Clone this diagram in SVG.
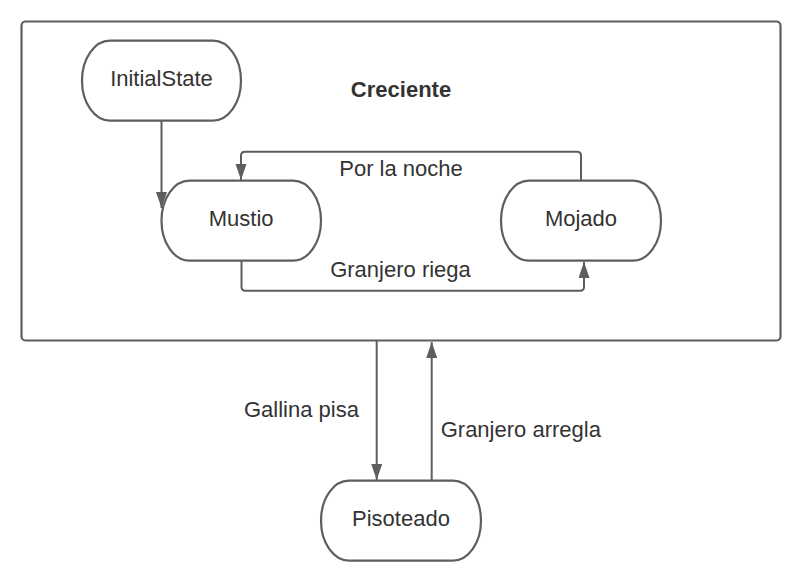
<svg xmlns="http://www.w3.org/2000/svg" width="803" height="583" viewBox="0 0 803 583">
<defs>
<style>
.node{fill:#ffffff;stroke:#5e5e5e;stroke-width:2.2}
.frame{fill:#ffffff;stroke:#5e5e5e;stroke-width:2.2}
.edge{fill:none;stroke:#5e5e5e;stroke-width:2}
.t{font-family:"Liberation Sans",Arial,sans-serif;font-size:22px;fill:#333333;text-anchor:middle}
.b{font-weight:bold}
.l{text-anchor:start}
</style>
<marker id="arr" markerUnits="userSpaceOnUse" markerWidth="18" markerHeight="12" refX="16" refY="5.5" orient="auto">
<path d="M0,0 L16,5.5 L0,11 z" fill="#5e5e5e"/>
</marker>
</defs>
<g id="creciente">
<rect class="frame" x="21.5" y="21.5" width="759" height="319" rx="4"/>
<text class="t b" x="401" y="97">Creciente</text>
</g>
<g id="connectors">
<path class="edge" d="M161.5,120.5 V208" marker-end="url(#arr)"/>
<path class="edge" d="M581,180.5 V155.7 Q581,151.7 577,151.7 H245 Q241,151.7 241,155.7 V180" marker-end="url(#arr)"/>
<path class="edge" d="M241.5,260.5 V286.7 Q241.5,290.7 245.5,290.7 H580 Q584,290.7 584,286.7 V262" marker-end="url(#arr)"/>
<path class="edge" d="M376.7,341 V480" marker-end="url(#arr)"/>
<path class="edge" d="M431.7,480.5 V342" marker-end="url(#arr)"/>
<text class="t" x="401" y="176">Por la noche</text>
<text class="t" x="400.5" y="277">Granjero riega</text>
<text class="t l" x="244" y="416.7">Gallina pisa</text>
<text class="t l" x="440.7" y="436.7">Granjero arregla</text>
</g>
<g id="initialstate">
<rect class="node" x="82" y="40.7" width="159" height="80" rx="28" ry="40"/>
<text class="t" x="161.5" y="86">InitialState</text>
</g>
<g id="mustio">
<rect class="node" x="161.5" y="180.7" width="159.5" height="80" rx="28" ry="40"/>
<text class="t" x="241.2" y="226">Mustio</text>
</g>
<g id="mojado">
<rect class="node" x="501" y="180.7" width="160" height="80" rx="28" ry="40"/>
<text class="t" x="581" y="226">Mojado</text>
</g>
<g id="pisoteado">
<rect class="node" x="321" y="480.7" width="160" height="80" rx="28" ry="40"/>
<text class="t" x="401" y="526">Pisoteado</text>
</g>
</svg>
